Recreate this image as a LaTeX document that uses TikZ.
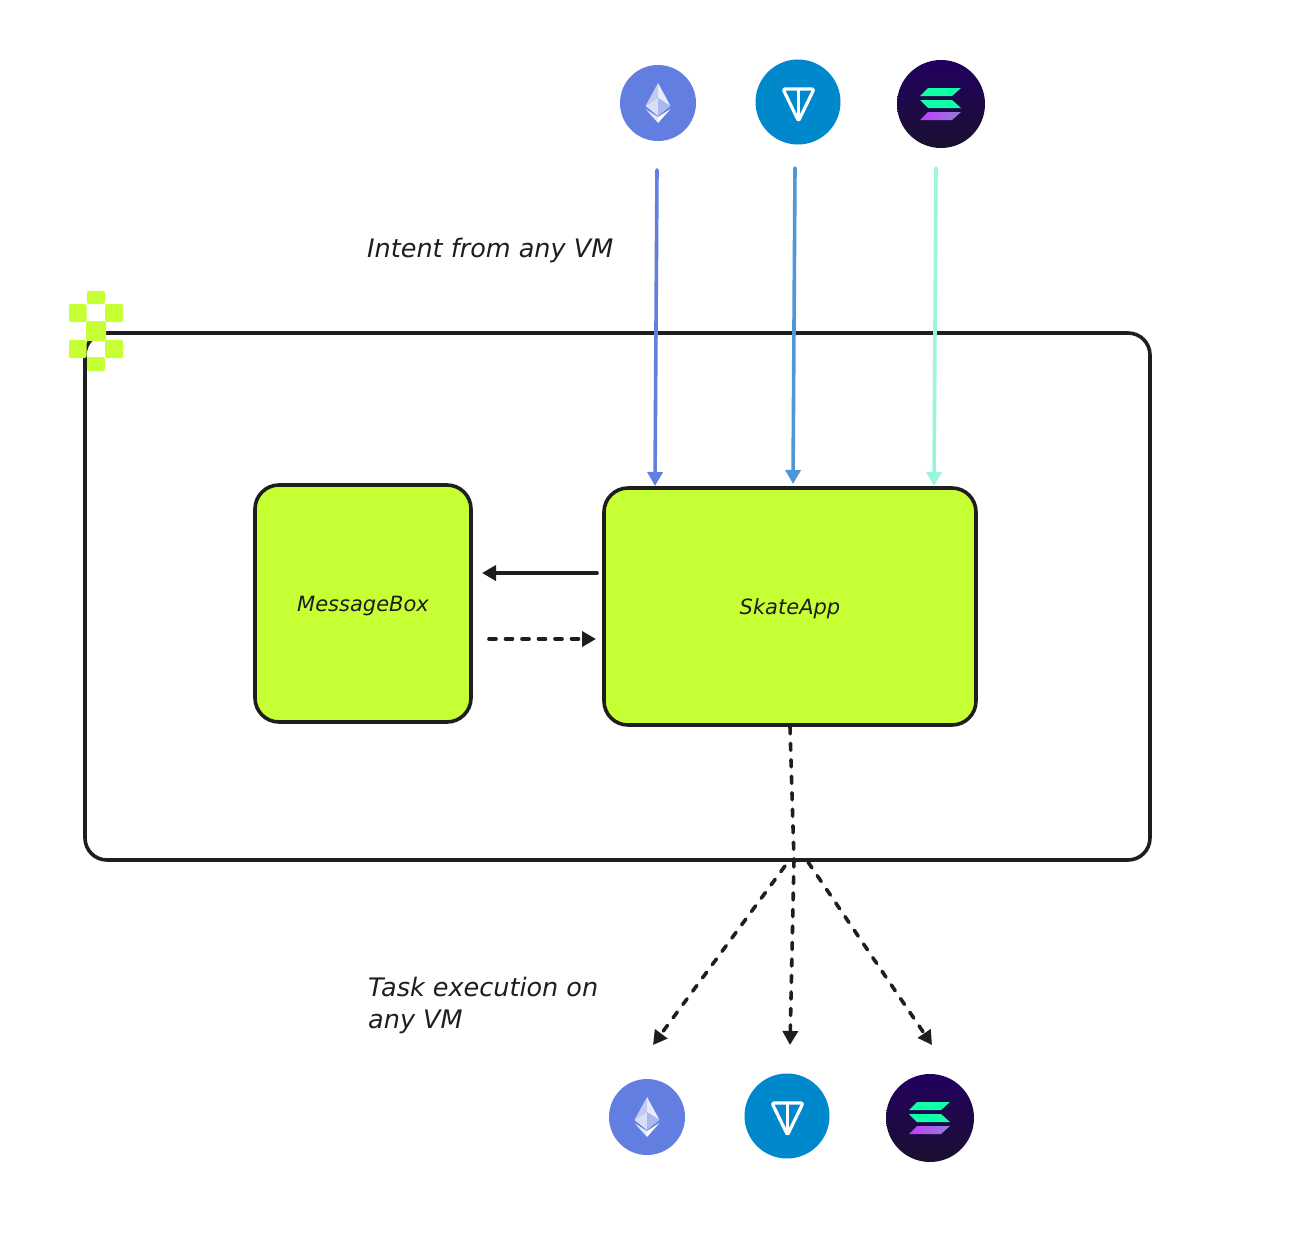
\documentclass[tikz,border=0pt]{standalone}
\usepackage{fontspec}
\setmainfont{DejaVu Sans}
\usetikzlibrary{arrows.meta}
\definecolor{ink}{HTML}{1E1E1E}
\definecolor{lime}{HTML}{C6FF33}
\definecolor{ethc}{HTML}{627EE0}
\definecolor{tonc}{HTML}{0088CC}
\definecolor{tonl}{HTML}{4F97D6}
\definecolor{soll}{HTML}{9AF5DC}
\definecolor{solt}{HTML}{22005F}
\definecolor{solb}{HTML}{1A1030}
\definecolor{solg}{HTML}{10FFA8}
\definecolor{solm}{HTML}{C43CFA}
\definecolor{solv}{HTML}{8F80D8}
\tikzset{
  x=1pt,y=-1pt,
  outerbox/.style={draw=ink,line width=3.6pt,rounded corners=22pt,inner sep=0pt},
  limebox/.style={draw=ink,fill=lime,line width=3.6pt,rounded corners=24pt,inner sep=0pt,
    font=\itshape\fontsize{21}{26}\selectfont,text=ink},
  lbl/.style={font=\itshape\fontsize{25.5}{32}\selectfont,text=ink,inner sep=0pt,align=left},
  conn/.style={line width=3.6pt,line cap=round,-{Triangle[length=14pt,width=15pt]}},
  dashconn/.style={conn,ink,dash pattern=on 7pt off 9.5pt},
  plaindash/.style={line width=3.6pt,ink,line cap=round,dash pattern=on 7pt off 9.5pt},
  logo/.style={fill=lime,rounded corners=2pt},
  ethicon/.style={circle,fill=ethc,draw=none,minimum size=76pt,inner sep=0pt},
  tonicon/.style={circle,fill=tonc,draw=none,minimum size=85pt,inner sep=0pt},
  solicon/.style={circle,top color=solt,bottom color=solb,draw=none,minimum size=88pt,inner sep=0pt},
}
\newcommand{\etheta}[3]{%
  \node[ethicon] (#1) at (#2,#3) {};
  \begin{scope}[shift={(#2,#3)}]
    \fill[white!60!ethc] (0,-20) -- (-12.5,3) -- (0,-5) -- cycle;
    \fill[white!85!ethc] (0,-20) -- (12.5,3) -- (0,-5) -- cycle;
    \fill[white!75!ethc] (-12.5,3) -- (0,-5) -- (0,13) -- cycle;
    \fill[white!45!ethc] (12.5,3) -- (0,-5) -- (0,13) -- cycle;
    \fill[white!80!ethc] (-12.5,6) -- (0,20) -- (0,14) -- cycle;
    \fill[white] (12.5,6) -- (0,20) -- (0,14) -- cycle;
  \end{scope}}
\newcommand{\tonglyph}[3]{%
  \node[tonicon] (#1) at (#2,#3) {};
  \begin{scope}[shift={(#2,#3)}]
    \draw[white,line width=3.2pt,line join=round,rounded corners=2pt] (-15,-13) -- (16,-13) -- (0.5,19) -- cycle;
    \draw[white,line width=3.2pt] (0.5,-13) -- (0.5,19);
  \end{scope}}
\newcommand{\solglyph}[3]{%
  \node[solicon] (#1) at (#2,#3) {};
  \begin{scope}[shift={(#2,#3)}]
    \fill[solg] (-21,-8) -- (-13,-16) -- (20,-16) -- (11,-8) -- cycle;
    \fill[solg] (-21,-4) -- (11,-4) -- (20,4) -- (-13,4) -- cycle;
    \shade[left color=solm,right color=solv] (-21,16) -- (-13,8) -- (20,8) -- (11,16) -- cycle;
  \end{scope}}
\begin{document}
\begin{tikzpicture}
\useasboundingbox (0,0) rectangle (1294,1234);
\fill[white] (0,0) rectangle (1294,1234);

% outer box
\node[outerbox,minimum width=1065pt,minimum height=527pt] (outer) at (617.5,596.5) {};

% logo
\fill[logo] (87,291) rectangle (105,304);
\fill[logo] (69,304) rectangle (86.5,322);
\fill[logo] (105,304) rectangle (123,322);
\fill[logo] (86,321) rectangle (106,341);
\fill[logo] (69,340) rectangle (86.5,358);
\fill[logo] (105,340) rectangle (123,358);
\fill[logo] (87,357) rectangle (105,371);

% inner boxes
\node[limebox,minimum width=216pt,minimum height=237pt,text depth=2pt] (msg) at (363,603.5) {\raisebox{-2pt}{MessageBox}};
\node[limebox,minimum width=372pt,minimum height=237pt,text depth=2pt] (skate) at (790,606.5) {\raisebox{-2pt}{SkateApp}};

% icons
\etheta{etha}{658}{103}
\tonglyph{tona}{798}{102}
\solglyph{sola}{941}{104}
\etheta{ethb}{647}{1117}
\tonglyph{tonb}{787}{1116}
\solglyph{solb}{930}{1118}

% labels
\node[lbl,anchor=west] (intent) at (367,250) {Intent from any VM};
\node[lbl,anchor=north west] (task) at (368,977) {Task execution on\\any VM};

% connector ends
\coordinate (ea) at (657,170);
\coordinate (eb) at (655,486);
\coordinate (ta) at (795,168);
\coordinate (tb) at (793,484);
\coordinate (sa) at (936,168);
\coordinate (sb) at (934,486);
\coordinate (la) at (597,573);
\coordinate (lb) at (482,573);
\coordinate (ra) at (489,639);
\coordinate (rb) at (596,639);
\coordinate (hub) at (794,860);
\coordinate (da) at (785,866);
\coordinate (db) at (653,1045);
\coordinate (dc) at (790,1045);
\coordinate (de) at (808,862);
\coordinate (df) at (932,1045);

\draw[conn,ethc] (ea) -- (eb);
\draw[conn,tonl] (ta) -- (tb);
\draw[conn,soll] (sa) -- (sb);
\draw[conn,ink] (la) -- (lb);
\draw[dashconn] (ra) -- (rb);
\draw[plaindash] (skate.south) -- (hub);
\draw[dashconn] (hub) -- (dc);
\draw[dashconn] (da) -- (db);
\draw[dashconn] (de) -- (df);
\end{tikzpicture}
\end{document}
